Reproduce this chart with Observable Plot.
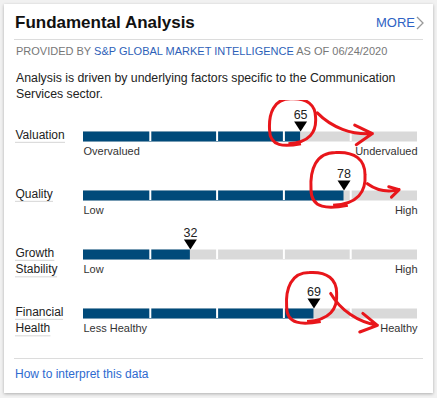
<!DOCTYPE html>
<html>
<head>
<meta charset="utf-8">
<script src="https://cdn.jsdelivr.net/npm/d3@7"></script>
<script src="https://cdn.jsdelivr.net/npm/@observablehq/plot@0.6"></script>
<style>
  html, body { margin: 0; padding: 0; background: #f1f1f1; font-family: "Liberation Sans", Arial, sans-serif; }
  #card { position: absolute; left: 4px; top: 4px; width: 429px; height: 389px; background: #fff;
          box-shadow: 0 1px 3px rgba(0,0,0,0.28); }
  .abs { position: absolute; white-space: nowrap; }
  #title { left: 15px; top: 13px; font-size: 17px; font-weight: bold; color: #111; }
  #more { left: 376px; top: 15px; font-size: 13px; color: #2e62c4; }
  #more svg { position: absolute; left: 39px; top: 1px; }
  .sep { position: absolute; left: 14px; width: 409px; height: 1px; background: #dcdcdc; }
  #prov { left: 16px; top: 45px; font-size: 11px; color: #777; }
  #prov b { font-weight: normal; color: #2e5fb8; }
  #desc { left: 16px; top: 70px; font-size: 12.3px; line-height: 16px; color: #222; white-space: normal; width: 400px; }
  #how { left: 15px; top: 367px; font-size: 12px; color: #2e6ad0; }
  #chart { position: absolute; left: 0; top: 100px; }
</style>
</head>
<body>
<div id="card"></div>
<div class="abs" id="title">Fundamental Analysis</div>
<div class="abs" id="more">MORE<svg width="10" height="14"><polyline points="2,1 8,7 2,13" fill="none" stroke="#999" stroke-width="1.3"/></svg></div>
<div class="sep" style="top:39px"></div>
<div class="abs" id="prov">PROVIDED BY <b>S&amp;P GLOBAL MARKET INTELLIGENCE</b> AS OF 06/24/2020</div>
<div class="abs" id="desc">Analysis is driven by underlying factors specific to the Communication Services sector.</div>
<div id="chart"></div>
<div class="sep" style="top:358px"></div>
<div class="abs" id="how">How to interpret this data</div>
<script>
// ---- data ----
const categories = ["Valuation", "Quality", "Growth Stability", "Financial Health"];
const labelLine1 = ["Valuation", "Quality", "Growth", "Financial"];
const labelLine2 = ["", "", "Stability", "Health"];
const scores = [65, 78, 32, 69];
const lowLabels = ["Overvalued", "Low", "Low", "Less Healthy"];
const highLabels = ["Undervalued", "High", "High", "Healthy"];
const segmentBreaks = [20, 40, 60, 80];
// red hand-drawn annotations (in score units / row units)
const annotatedRows = [0, 1, 3];
const loopCenterX = [62.6, 76.2, 68.3];
const loopCenterDy = [-0.25, -0.27, -0.27];
const loopSize = [23, 27, 25];
const arrowFromX = [70, 85, 74];
const arrowFromDy = [-0.40, -0.20, -0.34];
const arrowToX = [86.5, 94.5, 88];
const arrowToDy = [-0.05, -0.10, 0.20];

const rows = categories.map((c, i) => ({
  i, name: c, value: scores[i], l1: labelLine1[i], l2: labelLine2[i],
  low: lowLabels[i], high: highLabels[i]
}));
const divs = rows.flatMap(r => segmentBreaks.map(b => ({i: r.i, b})));
const ann = annotatedRows.map((r, k) => ({
  i: r, cx: loopCenterX[k], cy: r + loopCenterDy[k], size: loopSize[k],
  x1: arrowFromX[k], y1: r + arrowFromDy[k], x2: arrowToX[k], y2: r + arrowToDy[k]
}));

const ROW = 59;           // px per row
const HB = 5 / ROW;       // half bar height in row units

const downTriangle = {
  draw(ctx) { ctx.moveTo(-6.5, -10); ctx.lineTo(6.5, -10); ctx.lineTo(0, 0); ctx.closePath(); }
};
// hand-drawn-looking loop, unit radius 22, scaled by dot radius
const loop = {
  draw(ctx, size) {
    const s = Math.sqrt(size / Math.PI) / 22;
    const p = (a) => a.map(v => v * s);
    ctx.moveTo(...p([8, 21]));
    ctx.bezierCurveTo(...p([-8, 24, -22, 24, -22, 8]));
    ctx.bezierCurveTo(...p([-23, -8, -18, -22, -2, -22]));
    ctx.bezierCurveTo(...p([14, -23, 22, -16, 22, -4]));
    ctx.bezierCurveTo(...p([23, 10, 16, 20, -4, 21]));
  }
};

const plot = Plot.plot({
  width: 437, height: 240,
  marginLeft: 83, marginRight: 20, marginTop: 36, marginBottom: 27,
  x: {domain: [0, 100], axis: null},
  y: {domain: [0, 3], reverse: true, axis: null},
  r: {type: "identity"},
  style: {fontFamily: "'Liberation Sans', Arial, sans-serif", background: "transparent"},
  marks: [
    Plot.ruleY(rows, {y: "i", x1: 0, x2: 100, stroke: "#d9d9d9", strokeWidth: 10}),
    Plot.ruleY(rows, {y: "i", x1: 0, x2: "value", stroke: "#004a7a", strokeWidth: 10}),
    Plot.ruleX(divs, {x: "b", y1: d => d.i - HB, y2: d => d.i + HB, stroke: "#fff", strokeWidth: 2}),
    Plot.dot(rows, {x: "value", y: "i", dy: -5, symbol: downTriangle, fill: "#000", r: 5}),
    Plot.text(rows, {x: "value", y: "i", text: d => String(d.value), dy: -22, fontSize: 12.5, fill: "#222"}),
    Plot.text(rows, {x: 0, y: "i", text: "low", dy: 15, textAnchor: "start", fontSize: 11, fill: "#333"}),
    Plot.text(rows, {x: 100, y: "i", text: "high", dy: 15, textAnchor: "end", fontSize: 11, fill: "#333"}),
    Plot.text(rows, {y: "i", text: "l1", frameAnchor: "left", textAnchor: "start", dx: -68, dy: -1.5, fontSize: 12, fill: "#222"}),
    Plot.text(rows.filter(d => d.l2), {y: "i", text: "l2", frameAnchor: "left", textAnchor: "start", dx: -68, dy: 15, fontSize: 12, fill: "#222"}),
    Plot.dot(ann, {x: "cx", y: "cy", symbol: loop, r: "size", stroke: "#e8161b", strokeWidth: 3, fill: "none"}),
    Plot.arrow(ann, {x1: "x1", y1: "y1", x2: "x2", y2: "y2", bend: -25, stroke: "#e8161b", strokeWidth: 3, headLength: 10})
  ]
});
document.getElementById("chart").appendChild(plot);

// dotted underlines under category labels (measured from the rendered text)
const labelSet = new Set([...labelLine1, ...labelLine2].filter(Boolean));
const svg = plot.tagName.toLowerCase() === "svg" ? plot : plot.querySelector("svg");
Array.from(svg.querySelectorAll("text")).forEach(t => {
  if (!labelSet.has(t.textContent)) return;
  const b = t.getBBox();
  const ln = document.createElementNS("http://www.w3.org/2000/svg", "line");
  const yy = b.y + b.height + 0.5;
  ln.setAttribute("x1", b.x); ln.setAttribute("x2", b.x + b.width);
  ln.setAttribute("y1", yy); ln.setAttribute("y2", yy);
  ln.setAttribute("stroke", "#aaa"); ln.setAttribute("stroke-dasharray", "1,1");
  ln.setAttribute("stroke-width", "1");
  const tr = t.getAttribute("transform");
  if (tr) ln.setAttribute("transform", tr);
  t.parentNode.appendChild(ln);
});
</script>
</body>
</html>
